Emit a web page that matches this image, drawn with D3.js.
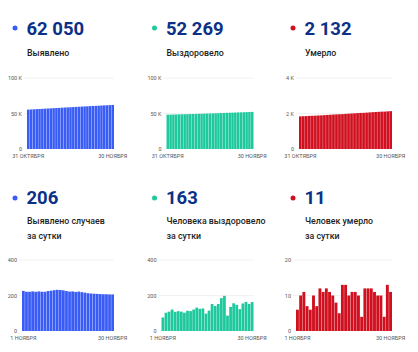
<!DOCTYPE html>
<html>
<head>
<meta charset="utf-8">
<script src="https://cdn.jsdelivr.net/npm/d3@7"></script>
<style>
  body { margin: 0; background: #fff; }
  svg { display: block; font-family: Roboto, "Noto Sans", sans-serif; }
  .tick line { display: none; }
  .domain { display: none; }
</style>
</head>
<body>
<div class="chart"></div>
<script>
// cumulative, 31 Oct .. 30 Nov
const datesCum = ['31 ОКТЯБРЯ','1','2','3','4','5','6','7','8','9','10','11','12','13','14','15','16','17','18','19','20','21','22','23','24','25','26','27','28','29','30 НОЯБРЯ']
const detectedCum = [55475,55701,55922,56143,56366,56587,56810,57031,57252,57477,57704,57934,58166,58397,58626,58851,59073,59296,59516,59738,59957,60173,60386,60597,60807,61016,61224,61431,61638,61844,62050]
const recoveredCum = [48373,48449,48552,48661,48782,48890,49002,49111,49214,49328,49440,49561,49693,49818,49945,50043,50158,50310,50451,50603,50788,50986,51073,51209,51365,51512,51635,51790,51954,52106,52269]
const deathsCum = [1839,1845,1855,1866,1873,1879,1889,1896,1908,1919,1931,1942,1952,1960,1965,1978,1991,2001,2012,2023,2033,2037,2049,2061,2073,2084,2094,2104,2108,2121,2132]

// daily, 1 Nov .. 30 Nov
const datesDay = ['1 НОЯБРЯ','2','3','4','5','6','7','8','9','10','11','12','13','14','15','16','17','18','19','20','21','22','23','24','25','26','27','28','29','30 НОЯБРЯ']
const detectedDay = [226,221,221,223,221,223,221,221,225,227,230,232,231,229,225,222,223,220,222,219,216,213,211,210,209,208,207,207,206,206]
const recoveredDay = [76,103,109,121,108,112,109,103,114,112,121,132,125,127,98,115,152,141,152,185,198,87,136,156,147,123,155,164,152,163]
const deathsDay = [6,10,11,7,6,10,7,12,11,12,11,10,8,5,13,13,10,11,11,10,4,12,12,12,11,10,10,4,13,11]

const totals = ['62 050','52 269','2 132','206','163','11']
const titles = [['Выявлено'],['Выздоровело'],['Умерло'],['Выявлено случаев','за сутки'],['Человека выздоровело','за сутки'],['Человек умерло','за сутки']]
const yTicksK = [0, 50000, 100000]
const yTicksKLabels = ['0','50 K','100 K']
const yTicksD = [0, 2000, 4000]
const yTicksDLabels = ['0','2 K','4 K']
const yTicksA = [0, 200, 400]
const yTicksALabels = ['0','200','400']
const yTicksB = [0, 10, 20]
const yTicksBLabels = ['0','10','20']

const blue = '#3a5cf6', green = '#1fc99d', red = '#d0101f'

const w = 418, h = 352
const svg = d3.select('.chart').append('svg').attr('width', w).attr('height', h)

const panels = [
  {x: 0,     row: 0, left: 27, dates: datesCum, values: detectedCum,  ticks: yTicksK, tickLabels: yTicksKLabels, color: blue},
  {x: 139.5, row: 0, left: 27, dates: datesCum, values: recoveredCum, ticks: yTicksK, tickLabels: yTicksKLabels, color: green},
  {x: 278,   row: 0, left: 21, dates: datesCum, values: deathsCum,    ticks: yTicksD, tickLabels: yTicksDLabels, color: red},
  {x: 0,     row: 1, left: 22, dates: datesDay, values: detectedDay,  ticks: yTicksA, tickLabels: yTicksALabels, color: blue},
  {x: 139.5, row: 1, left: 22, dates: datesDay, values: recoveredDay, ticks: yTicksA, tickLabels: yTicksALabels, color: green},
  {x: 278,   row: 1, left: 18, dates: datesDay, values: deathsDay,    ticks: yTicksB, tickLabels: yTicksBLabels, color: red}
]

// row layout
const rows = [
  {dot: 28, num: 35, label: 56, top: 78, bottom: 149},
  {dot: 198, num: 204, label: 224, top: 260, bottom: 331}
]

panels.forEach((p, i) => {
  const r = rows[p.row]
  const g = svg.append('g').attr('transform', `translate(${p.x},0)`)

  g.append('circle').attr('cx', 15).attr('cy', r.dot).attr('r', 2.5).attr('fill', p.color)
  g.append('text').attr('x', 26.5).attr('y', r.num)
    .attr('font-size', 18.5).attr('font-weight', 700).attr('fill', '#0b3187')
    .text(totals[i])
  titles[i].forEach((t, k) => {
    g.append('text').attr('x', 27).attr('y', r.label + k * 15)
      .attr('font-size', 8.8).attr('font-weight', 500).attr('fill', '#1e1e1e')
      .text(t)
  })

  const xScale = d3.scaleBand().domain(p.dates).range([p.left, 114]).paddingInner(0.1).paddingOuter(0)
  const yScale = d3.scaleLinear().domain([p.ticks[0], p.ticks[2]]).range([r.bottom, r.top])

  // grid
  g.append('g').selectAll('line').data(p.ticks.slice(1)).join('line')
    .attr('x1', p.left - 3).attr('x2', 114)
    .attr('y1', d => yScale(d)).attr('y2', d => yScale(d))
    .attr('stroke', '#efefef').attr('stroke-width', 0.8)

  g.append('g').selectAll('rect').data(p.values).join('rect')
    .attr('x', (d, j) => xScale(p.dates[j]))
    .attr('width', xScale.bandwidth())
    .attr('y', d => yScale(d))
    .attr('height', d => r.bottom - yScale(d))
    .attr('fill', p.color)

  const yAxis = g.append('g').attr('transform', `translate(${p.left},0)`)
    .call(d3.axisLeft(yScale).tickValues(p.ticks).tickSize(0).tickPadding(5)
      .tickFormat((d, k) => p.tickLabels[k]))
  yAxis.selectAll('text').attr('font-size', 5.5).attr('fill', '#555').attr('font-family', 'Roboto, sans-serif')

  const xAxis = g.append('g').attr('transform', `translate(0,${r.bottom})`)
    .call(d3.axisBottom(xScale).tickValues([p.dates[0], p.dates[p.dates.length - 1]]).tickSize(0).tickPadding(5))
  xAxis.selectAll('text').attr('font-size', 5.5).attr('fill', '#555').attr('font-family', 'Roboto, sans-serif')
})
</script>
</body>
</html>
